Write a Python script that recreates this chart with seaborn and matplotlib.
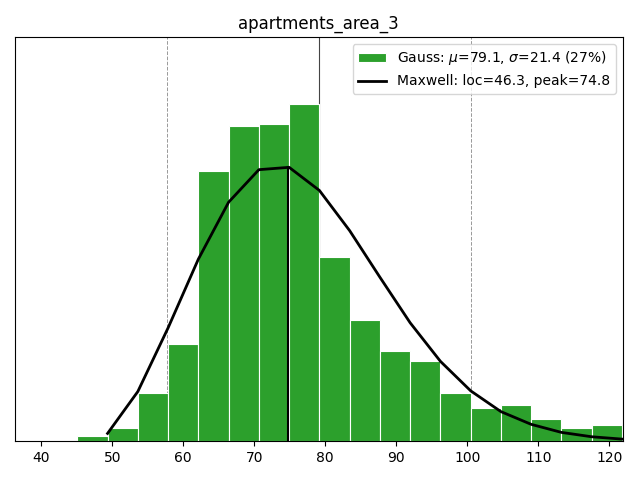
import numpy as np
import pandas as pd
import matplotlib
matplotlib.use("Agg")
import matplotlib.pyplot as plt
import seaborn as sns

title = "apartments_area_3"
mu = 79.1
sigma = 21.4
loc = 46.3
peak = 74.8

bin_lo = 45.08
bin_hi = 121.8
n_bins = 18
counts = [3, 8, 29, 58, 161, 188, 189, 201, 110, 72, 54, 48, 29, 20, 21.5, 13, 7.6, 9.6]
curve_y = [4.6, 29.6, 67.6, 108.6, 142.6, 162.0, 163.4, 149.6, 125.6, 97.8,
           70.6, 47.6, 30.0, 17.6, 10.0, 5.2, 2.6, 1.2]
peak_height = 163.4
xticks = [40, 50, 60, 70, 80, 90, 100, 110, 120]

edges = np.linspace(bin_lo, bin_hi, n_bins + 1)
centers = (edges[:-1] + edges[1:]) / 2
df = pd.DataFrame({"x": centers, "w": counts})
curve = pd.DataFrame({"x": edges[1:], "y": curve_y})

plt.rcParams['font.family'] = ['DejaVu Sans']
plt.rcParams['text.color'] = 'black'
plt.rcParams['xtick.color'] = 'black'
plt.rcParams['axes.labelcolor'] = 'black'
fig, ax = plt.subplots(figsize=(6.4, 4.8), dpi=100)

sns.histplot(data=df, x="x", weights="w", bins=n_bins, binrange=(bin_lo, bin_hi),
             color="#2ca02c", alpha=1.0, edgecolor="white", linewidth=0.8, ax=ax,
             label=rf"Gauss: $\mu$={mu}, $\sigma$={sigma} (27%)")
sns.lineplot(data=curve, x="x", y="y", color="black", linewidth=2, ax=ax,
             label=f"Maxwell: loc={loc}, peak={peak}")

ax.axvline(mu, color="#444444", linewidth=0.8, zorder=0)
ax.axvline(mu - sigma, color="#999999", linestyle="--", linewidth=0.7, zorder=0)
ax.axvline(mu + sigma, color="#999999", linestyle="--", linewidth=0.7, zorder=0)
ax.plot([peak, peak], [0, peak_height], color="black", linewidth=1.5)

ax.set_xlim(mu - 2 * sigma, mu + 2 * sigma)
ax.set_ylim(0, 1.2 * max(counts))
ax.set_xticks(xticks)
ax.set_yticks([])
ax.set_xlabel("")
ax.set_ylabel("")
ax.set_title(title, fontsize=12, color="black")
ax.tick_params(axis="x", bottom=True, length=3.5, labelsize=10, colors="black")
for s in ax.spines.values():
    s.set_color("black")
    s.set_linewidth(0.8)

handles, labels = ax.get_legend_handles_labels()
order = [labels.index(l) for l in labels if l.startswith("Gauss")] + \
        [labels.index(l) for l in labels if l.startswith("Maxwell")]
ax.legend([handles[i] for i in order], [labels[i] for i in order],
          loc="upper right", fontsize=10)

fig.subplots_adjust(left=0.0234, right=0.973, top=0.923, bottom=0.081)
fig.savefig("out.png", dpi=100)
